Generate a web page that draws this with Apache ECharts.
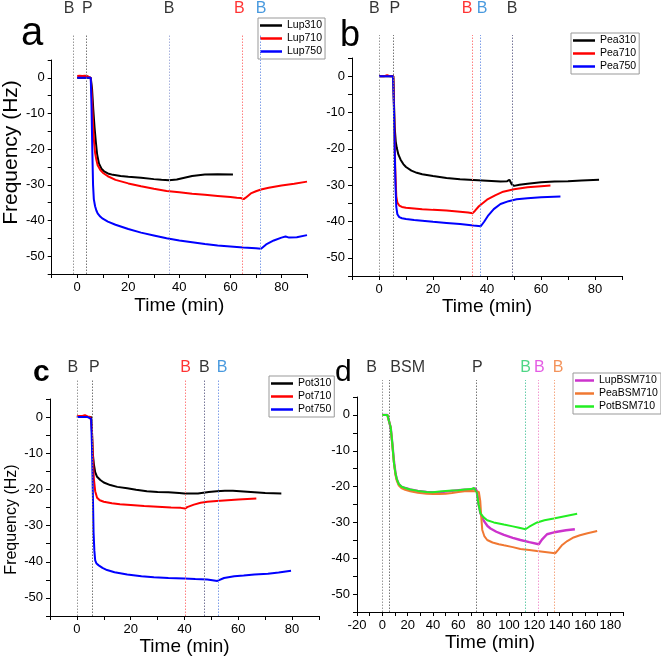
<!DOCTYPE html>
<html>
<head>
<meta charset="utf-8">
<script src="https://cdn.jsdelivr.net/npm/echarts@6/dist/echarts.min.js"></script>
<style>
html,body{margin:0;padding:0;background:#fff;}
#c{width:661px;height:659px;}
</style>
</head>
<body>
<div id="c"></div>
<script>
// ---------- Panel a (Lupin) ----------
const lup310T = [0, 2, 4, 5.3, 5.8, 6.3, 6.8, 7.3, 7.8, 8.5, 9.5, 10.5, 12, 14, 17, 20, 25, 30, 33, 36, 39, 42, 45, 50, 55, 61];
const lup310V = [0, 0, 0, 0, -3, -9, -14, -18, -21.5, -24, -25.5, -26.2, -26.8, -27.2, -27.5, -27.7, -28, -28.4, -28.6, -28.7, -28.5, -28, -27.5, -27.1, -27, -27.1];
const lup710T = [0, 1, 2, 3, 4, 4.5, 5.3, 5.8, 6.2, 6.6, 7, 7.5, 8, 9, 10, 12, 15, 20, 25, 30, 35, 40, 45, 50, 55, 60, 62.5, 63.2, 64, 65.2, 66, 68, 70, 72, 75, 80, 85, 90];
const lup710V = [0.5, 0.6, 0.5, 0.6, 0.5, 0, 0, -6, -13, -18, -21, -23, -24.5, -25.8, -26.6, -27.6, -28.6, -29.6, -30.4, -31.1, -31.7, -32.1, -32.5, -32.8, -33.1, -33.4, -33.6, -33.2, -33.7, -34, -33.6, -32.4, -31.8, -31.3, -30.8, -30.2, -29.7, -29.1];
const lup750T = [0, 2, 4, 5.3, 5.6, 5.9, 6.2, 6.5, 7, 7.5, 8, 9, 10, 12, 15, 20, 25, 30, 35, 40, 45, 50, 55, 60, 65, 70, 72, 74, 77, 80, 81.6, 83, 86, 90];
const lup750V = [0, 0, 0, 0, -8, -20, -30, -34, -36, -37.2, -38, -38.9, -39.5, -40.3, -41.2, -42.4, -43.4, -44.2, -45, -45.6, -46.1, -46.6, -47, -47.3, -47.6, -47.8, -47.9, -46.7, -45.6, -44.8, -44.5, -44.8, -44.7, -44.1];
const evLinesA = [0, 5, 37, 65, 72];
const evLineColA = ['#999999', '#777777', '#a8b2dd', '#ff8080', '#7f9fe8'];
const evLabelXA = [-1.5, 5.5, 37, 64, 72.3];
const evLabelA = ['B', 'P', 'B', 'B', 'B'];
const evLabelColA = ['#000000', '#000000', '#000000', '#ff0000', '#1a7fd6'];

// ---------- Panel b (Pea) ----------
const pea310T = [0, 2, 4, 5.3, 5.5, 5.8, 6.2, 6.6, 7.2, 8, 9, 10, 12, 14, 16, 20, 25, 30, 35, 40, 45, 47.5, 48.3, 49.2, 50, 52, 55, 60, 65, 70, 75, 81.5];
const pea310V = [0, 0, 0, 0, -6, -14, -18, -19.8, -21.6, -23, -24.2, -25, -26, -26.6, -27, -27.5, -28, -28.4, -28.6, -28.8, -29, -28.9, -28.5, -29.8, -30.2, -29.9, -29.6, -29.2, -29, -28.9, -28.7, -28.5];
const pea710T = [0, 2, 3, 4, 5.3, 5.6, 6, 6.4, 6.8, 7.5, 8.5, 10, 13, 16, 20, 25, 30, 33, 34.7, 35.5, 37, 40, 43, 46, 50, 55, 60, 63.5];
const pea710V = [0, 0, 0.3, 0, 0, -10, -25, -33, -34.8, -35.6, -36, -36.2, -36.4, -36.6, -36.8, -37, -37.3, -37.5, -37.7, -37.1, -35.8, -34, -32.8, -31.8, -31.1, -30.6, -30.3, -30.1];
const pea750T = [0, 2, 4, 5.2, 5.5, 5.8, 6.1, 6.4, 6.8, 7.5, 8.5, 10, 13, 16, 20, 25, 30, 35, 37.7, 39, 40.5, 42.5, 45, 48, 51, 55, 60, 67.2];
const pea750V = [0, 0, 0, 0, -8, -20, -30, -36, -38, -38.8, -39.1, -39.3, -39.6, -39.8, -40.1, -40.4, -40.7, -41.1, -41.3, -40, -38.3, -36.6, -35.2, -34.4, -33.9, -33.6, -33.3, -33.1];
const evLinesB = [0, 5.4, 34.7, 37.6, 49.2];
const evLineColB = ['#999999', '#777777', '#ff8080', '#7f9fe8', '#777799'];
const evLabelXB = [-1.7, 5.9, 32.6, 38.2, 49.3];
const evLabelB = ['B', 'P', 'B', 'B', 'B'];
const evLabelColB = ['#000000', '#000000', '#ff0000', '#1a7fd6', '#000000'];

// ---------- Panel c (Potato) ----------
const pot310T = [0, 2, 4, 5.3, 5.6, 5.9, 6.3, 6.8, 7.5, 8.7, 10, 12.4, 15, 18.7, 22, 26, 30, 34, 38, 40, 43, 45, 47, 49, 52, 55, 58, 62, 66, 70, 76];
const pot310V = [0, 0, 0, 0, -4, -10, -13, -15.2, -16.5, -17.4, -18.1, -18.8, -19.3, -19.7, -20.1, -20.5, -20.7, -20.8, -21, -21.1, -21.1, -21.1, -20.9, -20.7, -20.5, -20.4, -20.4, -20.6, -20.8, -21, -21.1];
const pot710T = [0, 1, 2, 3, 4, 5, 5.5, 5.9, 6.3, 6.8, 7.5, 8.5, 10, 13, 16, 20, 25, 30, 35, 38.6, 40.2, 41, 43.5, 46, 48.5, 52, 56, 60, 66.7];
const pot710V = [0.2, 0.3, 0.3, 0.5, 0.2, 0, -2, -10, -17, -20.5, -22.3, -23, -23.4, -23.8, -24.1, -24.3, -24.6, -24.8, -25, -25.1, -25.3, -24.9, -24.2, -23.7, -23.4, -23.2, -23, -22.8, -22.5];
const pot750T = [0, 2, 4, 5.3, 5.6, 5.9, 6.2, 6.5, 6.8, 7.3, 8.1, 9.5, 11.2, 14, 18.7, 24, 28.6, 34, 39.8, 44, 48.5, 52.2, 54.7, 58.5, 62, 66, 71, 75, 79.6];
const pot750V = [0, 0, 0, -0.5, -8, -20, -32, -37, -39.6, -40.5, -41, -41.7, -42.3, -42.9, -43.5, -44, -44.3, -44.5, -44.6, -44.8, -44.9, -45.3, -44.5, -44, -43.8, -43.5, -43.3, -43, -42.5];
const evLinesC = [0, 5.8, 40.2, 47.3, 52.4];
const evLineColC = ['#999999', '#777777', '#ff8080', '#777799', '#7f9fe8'];
const evLabelXC = [-1.5, 6.5, 40.4, 47.4, 54];
const evLabelC = ['B', 'P', 'B', 'B', 'B'];
const evLabelColC = ['#000000', '#000000', '#ff0000', '#000000', '#1a7fd6'];

// ---------- Panel d (BSM) ----------
const lupBsmT = [0, 2, 4, 5.3, 6.6, 7.9, 9.2, 10.5, 11.5, 13, 15, 18, 22, 28, 35, 40, 45, 50, 55, 60, 65, 70, 73.5, 74.9, 76, 77.5, 80, 83, 85.4, 90, 96, 103, 109, 116, 123.5, 126, 130, 134, 138, 145, 152];
const lupBsmV = [0, 0, 0, 0, -3.5, -8, -13, -16.5, -18, -19.3, -20, -20.4, -20.8, -21.2, -21.5, -21.6, -21.6, -21.4, -21.2, -21, -20.9, -20.8, -20.5, -21.5, -25, -27.5, -29.5, -31, -31.7, -32.6, -33.5, -34.3, -34.9, -35.5, -36.1, -34.8, -33.3, -32.9, -32.6, -32.2, -31.9];
const peaBsmT = [0, 2, 4, 5.3, 6.6, 7.9, 9.2, 10.5, 11.5, 13, 15, 18, 22, 28, 35, 40, 45, 50, 55, 60, 65, 70, 74, 76.2, 77.3, 78.2, 78.9, 80.5, 82.8, 87, 92, 96, 103, 109, 116, 122, 130, 136.5, 139, 142, 146, 151, 156, 162, 169.6];
const peaBsmV = [0, 0, 0, 0, -3.5, -8.5, -13.5, -17, -18.5, -19.7, -20.4, -20.9, -21.3, -21.7, -22, -22.1, -22.1, -22, -21.8, -21.5, -21.3, -21.2, -21.3, -21.5, -24, -29, -32.1, -33.8, -34.9, -35.6, -36.1, -36.4, -36.9, -37.4, -37.7, -38, -38.3, -38.6, -37.6, -36.3, -35.2, -34.2, -33.6, -33, -32.4];
const potBsmT = [0, 2, 4, 5.3, 6.6, 7.9, 9.2, 10.5, 11.5, 13, 15, 18, 22, 28, 35, 40, 45, 50, 55, 60, 65, 70, 72.3, 74.4, 76, 77.5, 80, 82.8, 88, 95.9, 103, 108, 113, 116, 122.2, 128, 135.3, 145, 153.8];
const potBsmV = [0, 0, 0, 0, -3.5, -8, -13.5, -16.5, -18, -19.3, -20, -20.4, -20.8, -21.2, -21.5, -21.6, -21.4, -21.2, -21.1, -21, -20.8, -20.7, -20.4, -21.5, -25, -27.5, -28.6, -29.4, -30, -30.6, -31.1, -31.5, -31.9, -31.2, -30, -29.4, -28.9, -28.2, -27.6];
const evLinesD = [0, 5.8, 74.4, 112.5, 123, 136];
const evLineColD = ['#999999', '#777777', '#777777', '#66ccaa', '#f29ad0', '#f5a882'];
const evLabelXD = [-8.4, 20, 75, 113, 124, 138.7];
const evLabelD = ['B', 'BSM', 'P', 'B', 'B', 'B'];
const evLabelColD = ['#000000', '#000000', '#000000', '#22cc66', '#dd33dd', '#f07832'];

// ---------- build ----------
const FONT = 'Liberation Sans, Arial, Helvetica, sans-serif';
const zip = (t, v) => t.map((x, i) => [x, v[i]]);

const G = [
  {left: 47, top: 60, width: 260, height: 214},
  {left: 352, top: 58, width: 270, height: 218},
  {left: 50, top: 399, width: 269, height: 217},
  {left: 357, top: 397, width: 266, height: 215}
];
const lineTop = [35, 35, 379, 380];
const labelY = [8.5, 8.7, 367.5, 367.5];

const grids = [];
G.forEach(g => grids.push(Object.assign({containLabel: false}, g)));
G.forEach((g, i) => grids.push({left: g.left, width: g.width, top: lineTop[i], height: g.top + g.height - lineTop[i]}));

function xMain(gi, min, max, nameGap) {
  return {
    type: 'value', gridIndex: gi, min: min, max: max, interval: 10,
    axisLine: {show: true, onZero: false, lineStyle: {color: '#000', width: 1}},
    axisTick: {show: true, length: 4, lineStyle: {color: '#000'}},
    splitLine: {show: false},
    axisLabel: {color: '#000', fontSize: 13, fontFamily: FONT, margin: 7,
      formatter: v => (Math.round(v) % 20 === 0 ? String(v) : '')},
    name: 'Time (min)', nameLocation: 'middle', nameGap: nameGap,
    nameTextStyle: {fontSize: 19, color: '#000', fontFamily: FONT}
  };
}
function yMain(gi, title, fs, pad, nameGap) {
  const ax = {
    type: 'value', gridIndex: gi, min: -55, max: 5, interval: 5,
    axisLine: {show: true, onZero: false, lineStyle: {color: '#000', width: 1}},
    axisTick: {show: true, length: 4, lineStyle: {color: '#000'}},
    splitLine: {show: false},
    axisLabel: {color: '#000', fontSize: 13, fontFamily: FONT, margin: 7,
      formatter: v => (Math.round(v) % 10 === 0 ? String(v) : '')}
  };
  if (title) {
    ax.name = title; ax.nameLocation = 'middle'; ax.nameGap = nameGap; ax.nameRotate = 90;
    ax.nameTextStyle = {fontSize: fs, color: '#000', fontFamily: FONT, padding: pad};
  }
  return ax;
}
const xRanges = [[-10, 90], [-10, 90], [-10, 90], [-20, 190]];
const xAxes = [
  xMain(0, -10, 90, 22), xMain(1, -10, 90, 20), xMain(2, -10, 90, 21), xMain(3, -20, 190, 19)
];
const yAxes = [
  yMain(0, 'Frequency (Hz)', 21, [0, 0, 0, 29], 27),
  yMain(1, null),
  yMain(2, 'Frequency (Hz)', 16, [0, 24, 0, 0], 30),
  yMain(3, null)
];
for (let i = 0; i < 4; i++) {
  xAxes.push({type: 'value', gridIndex: 4 + i, min: xRanges[i][0], max: xRanges[i][1], show: false});
  yAxes.push({type: 'value', gridIndex: 4 + i, min: 0, max: 1, show: false});
}

const series = [];
function addLine(name, t, v, color, gi, width) {
  series.push({
    name: name, type: 'line', xAxisIndex: gi, yAxisIndex: gi, data: zip(t, v),
    symbol: 'none', showSymbol: false, smooth: false, animation: false,
    lineStyle: {color: color, width: width || 2}, itemStyle: {color: color},
    emphasis: {disabled: true}, z: 3
  });
}
addLine('Lup310', lup310T, lup310V, '#000000', 0);
addLine('Lup710', lup710T, lup710V, '#ff0000', 0);
addLine('Lup750', lup750T, lup750V, '#0000ff', 0);
addLine('Pea310', pea310T, pea310V, '#000000', 1);
addLine('Pea710', pea710T, pea710V, '#ff0000', 1);
addLine('Pea750', pea750T, pea750V, '#0000ff', 1);
addLine('Pot310', pot310T, pot310V, '#000000', 2);
addLine('Pot710', pot710T, pot710V, '#ff0000', 2);
addLine('Pot750', pot750T, pot750V, '#0000ff', 2);
addLine('LupBSM710', lupBsmT, lupBsmV, '#cc33cc', 3, 2.4);
addLine('PeaBSM710', peaBsmT, peaBsmV, '#f07832', 3, 2);
addLine('PotBSM710', potBsmT, potBsmV, '#22ee22', 3, 2);

const ev = [
  [evLinesA, evLineColA, evLabelXA, evLabelA, evLabelColA],
  [evLinesB, evLineColB, evLabelXB, evLabelB, evLabelColB],
  [evLinesC, evLineColC, evLabelXC, evLabelC, evLabelColC],
  [evLinesD, evLineColD, evLabelXD, evLabelD, evLabelColD]
];
ev.forEach((e, i) => {
  const gi = 4 + i;
  series.push({
    type: 'scatter', xAxisIndex: gi, yAxisIndex: gi, symbolSize: 0, silent: true, animation: false, clip: false,
    data: e[2].map((x, k) => ({
      value: [x, 1],
      label: {show: true, position: 'inside', formatter: e[3][k], color: e[4][k],
        fontSize: 16, fontFamily: FONT, offset: [0, labelY[i] - lineTop[i]]}
    })),
    markLine: {
      silent: true, symbol: ['none', 'none'], animation: false, label: {show: false},
      data: e[0].map((x, k) => ({xAxis: x, lineStyle: {color: e[1][k], type: [1.5, 1.5], width: 1}}))
    },
    z: 1
  });
});

function legend(names, left, top, fs, iw) {
  return {
    data: names, orient: 'vertical', left: left, top: top, itemWidth: iw, itemHeight: 2.5, icon: 'rect',
    itemGap: 2, padding: [2, 3, 2, 2], borderColor: '#999', borderWidth: 1, backgroundColor: '#fff',
    textStyle: {fontSize: fs, color: '#000', fontFamily: FONT}, selectedMode: false
  };
}

const option = {
  backgroundColor: '#ffffff',
  animation: false,
  grid: grids,
  xAxis: xAxes,
  yAxis: yAxes,
  legend: [
    legend(['Lup310', 'Lup710', 'Lup750'], 258, 18, 10.5, 22),
    legend(['Pea310', 'Pea710', 'Pea750'], 571, 33, 10.5, 22),
    legend(['Pot310', 'Pot710', 'Pot750'], 269, 376, 10.5, 22),
    legend(['LupBSM710', 'PeaBSM710', 'PotBSM710'], 573, 373, 10.5, 19)
  ],
  graphic: [
    {type: 'text', left: 21, top: 14, style: {text: 'a', font: '40px ' + FONT, fill: '#000'}},
    {type: 'text', left: 340, top: 18, style: {text: 'b', font: '36px ' + FONT, fill: '#000'}},
    {type: 'text', left: 33, top: 358, style: {text: 'c', font: 'bold 30px ' + FONT, fill: '#000'}},
    {type: 'text', left: 335, top: 358, style: {text: 'd', font: '30px ' + FONT, fill: '#000'}}
  ],
  series: series
};
const chart = echarts.init(document.getElementById('c'), null, {renderer: 'canvas'});
chart.setOption(option);
</script>
</body>
</html>
